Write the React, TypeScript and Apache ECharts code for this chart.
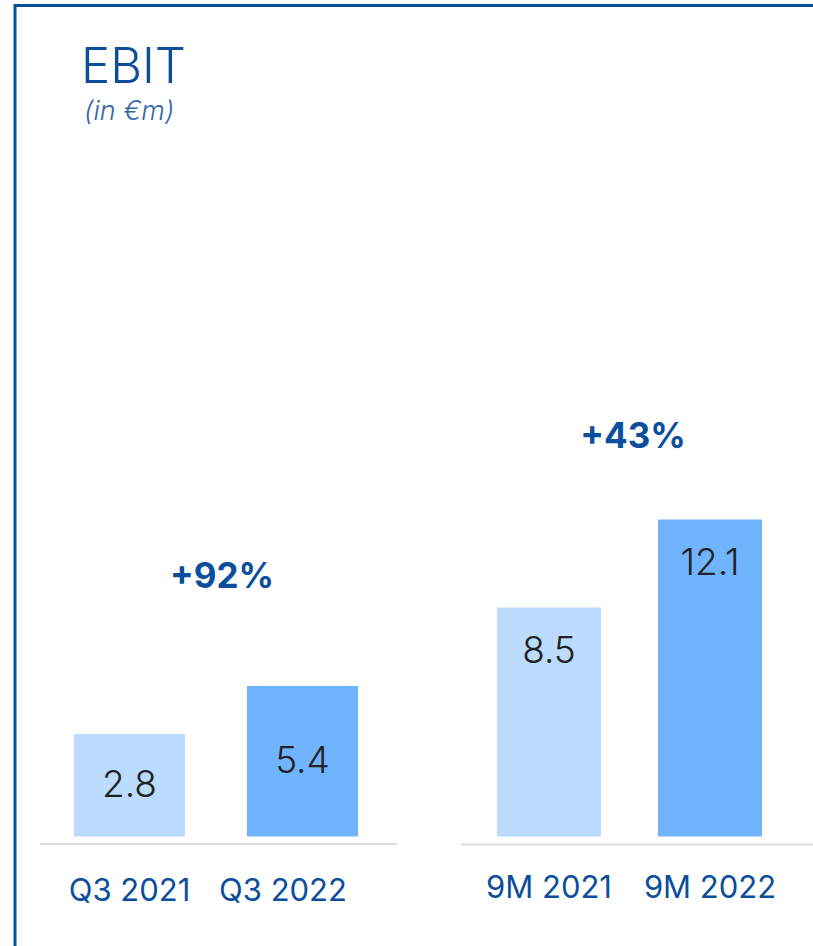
import React, { useEffect, useRef } from "react";
import * as echarts from "echarts";

const quarterCats = ["Q3 2021", "Q3 2022"];
const quarterValues = [2.8, 5.4];
const nineMonthCats = ["9M 2021", "9M 2022"];
const nineMonthValues = [8.5, 12.1];
const growthLabels = ["+92%", "+43%"];
const titleText = "EBIT";
const unitText = "(in €m)";

const FONT = "Inter, 'Noto Sans', sans-serif";
const BLUE = "#0b4f9c";
const BAR_COLORS = ["#bbdbff", "#70b4ff"];

// hidden axis baselines (bar starts)
const LEFT_MIN = -2.75;
const RIGHT_MIN = -0.87;

function makeRender(axisMin: number, barW: number, labelMode: "center" | "top") {
  return (params: any, api: any) => {
    const idx = api.value(0);
    const v = api.value(1);
    const top = api.coord([idx, v]);
    const base = api.coord([idx, axisMin]);
    const h = base[1] - top[1];
    const ly = labelMode === "center" ? top[1] + h / 2 - 2 : top[1] + 42;
    return {
      type: "group",
      children: [
        {
          type: "rect",
          shape: { x: top[0] - barW / 2, y: top[1], width: barW, height: h },
          style: { fill: BAR_COLORS[idx] },
        },
        {
          type: "text",
          style: {
            text: v.toFixed(1),
            x: top[0],
            y: ly,
            align: "center",
            verticalAlign: "middle",
            fill: "#222222",
            fontSize: 37,
            fontFamily: FONT,
            fontWeight: 300,
          },
        },
      ],
    };
  };
}

export default function App() {
  const ref = useRef<HTMLDivElement>(null);
  useEffect(() => {
    if (!ref.current) return;
    const chart = echarts.init(ref.current, null, { renderer: "svg" });
    const option: any = {
      animation: false,
      backgroundColor: "#ffffff",
      grid: [
        { left: 43, width: 346, top: 601, bottom: 109.5 },
        { left: 468.5, width: 322, top: 326.5, bottom: 109.5 },
      ],
      xAxis: [
        {
          type: "category",
          gridIndex: 0,
          data: quarterCats,
          axisLine: { show: false },
          axisTick: { show: false },
          axisLabel: {
            interval: 0,
            hideOverlap: false,
            margin: 37,
            formatter: (val: string, i: number) => (i === 1 ? "{s|" + val + "}" : "{n|" + val + "}"),
            rich: {
              n: { fontSize: 31, fontFamily: FONT, color: BLUE },
              s: { fontSize: 31, fontFamily: FONT, color: BLUE, padding: [0, 39, 0, 0] },
            },
          },
        },
        {
          type: "category",
          gridIndex: 1,
          data: nineMonthCats,
          axisLine: { show: false },
          axisTick: { show: false },
          axisLabel: {
            interval: 0,
            hideOverlap: false,
            margin: 34,
            fontSize: 31,
            fontFamily: FONT,
            color: BLUE,
          },
        },
      ],
      yAxis: [
        { type: "value", gridIndex: 0, min: LEFT_MIN, max: 10, show: false },
        { type: "value", gridIndex: 1, min: RIGHT_MIN, max: 20, show: false },
      ],
      series: [
        {
          type: "custom",
          xAxisIndex: 0,
          yAxisIndex: 0,
          renderItem: makeRender(LEFT_MIN, 111, "center"),
          data: quarterValues.map((v, i) => [i, v]),
        },
        {
          type: "custom",
          xAxisIndex: 1,
          yAxisIndex: 1,
          renderItem: makeRender(RIGHT_MIN, 104, "top"),
          data: nineMonthValues.map((v, i) => [i, v]),
        },
      ],
      graphic: [
        {
          type: "rect",
          shape: { x: 15, y: 5.5, width: 1000, height: 1100 },
          style: { fill: "none", stroke: BLUE, lineWidth: 3 },
        },
        {
          type: "line",
          shape: { x1: 40, y1: 844, x2: 397, y2: 844 },
          style: { stroke: "#dddddd", lineWidth: 2 },
        },
        {
          type: "line",
          shape: { x1: 461, y1: 844.5, x2: 813, y2: 844.5 },
          style: { stroke: "#dddddd", lineWidth: 2 },
        },
        {
          type: "text",
          x: 81,
          y: 65,
          style: {
            text: titleText,
            fontSize: 49,
            fontWeight: 300,
            fontFamily: FONT,
            fill: BLUE,
            verticalAlign: "middle",
          },
        },
        {
          type: "text",
          x: 84,
          y: 110,
          style: {
            text: unitText,
            fontSize: 27,
            fontStyle: "italic",
            fontWeight: 300,
            fontFamily: FONT,
            fill: "#3566ad",
            verticalAlign: "middle",
          },
        },
        {
          type: "text",
          x: 222,
          y: 575,
          style: {
            text: growthLabels[0],
            fontSize: 35,
            fontWeight: 700,
            fontFamily: FONT,
            fill: BLUE,
            align: "center",
            verticalAlign: "middle",
          },
        },
        {
          type: "text",
          x: 633,
          y: 435,
          style: {
            text: growthLabels[1],
            fontSize: 35,
            fontWeight: 700,
            fontFamily: FONT,
            fill: BLUE,
            align: "center",
            verticalAlign: "middle",
          },
        },
      ],
    };
    chart.setOption(option);
    return () => chart.dispose();
  }, []);
  return (
    <div
      ref={ref}
      style={{ position: "fixed", left: 0, top: 0, width: 813, height: 946 }}
    />
  );
}
